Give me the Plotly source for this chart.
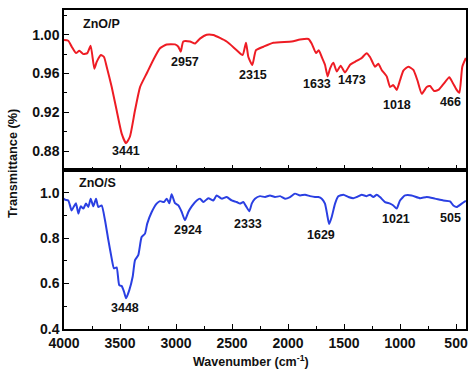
import plotly.graph_objects as go

# ZnO/P (top panel)
wn_p = [4000, 3962, 3931, 3893, 3863, 3827, 3792, 3762, 3729, 3708, 3670, 3643, 3619, 3574,
        3530, 3485, 3446, 3411, 3366, 3321, 3262, 3203, 3143, 3083, 3009, 2979, 2958, 2935,
        2875, 2830, 2786, 2726, 2667, 2548, 2458, 2405, 2375, 2354, 2319, 2286, 2220, 2131,
        1967, 1893, 1818, 1789, 1750, 1726, 1699, 1670, 1646, 1625, 1595, 1565, 1530, 1491,
        1446, 1402, 1342, 1298, 1268, 1223, 1194, 1164, 1119, 1089, 1060, 1030, 1000, 970,
        926, 881, 845, 806, 762, 732, 696, 658, 613, 560, 530, 494, 470, 444, 412]
t_p = [0.9945, 0.9938, 0.9876, 0.981, 0.9835, 0.980, 0.981, 0.9887, 0.965, 0.972, 0.979, 0.977,
       0.967, 0.946, 0.922, 0.898, 0.888, 0.895, 0.922, 0.946, 0.960, 0.974, 0.986, 0.990,
       0.990, 0.9876, 0.9825, 0.993, 0.993, 0.991, 0.996, 1.000, 0.9997, 0.993, 0.984, 0.979,
       0.9918, 0.977, 0.9687, 0.984, 0.9876, 0.9917, 0.993, 0.995, 0.9956, 0.991, 0.981, 0.984,
       0.977, 0.969, 0.957, 0.965, 0.971, 0.962, 0.968, 0.961, 0.969, 0.972, 0.976, 0.981,
       0.977, 0.967, 0.970, 0.9636, 0.957, 0.946, 0.948, 0.943, 0.953, 0.963, 0.967, 0.9636,
       0.953, 0.939, 0.946, 0.947, 0.942, 0.943, 0.949, 0.956, 0.9505, 0.943, 0.940, 0.967, 0.976]

# ZnO/S (bottom panel)
wn_s = [4000, 3991, 3962, 3932, 3911, 3893, 3872, 3851, 3827, 3804, 3783, 3762, 3738, 3714,
        3694, 3664, 3634, 3604, 3574, 3554, 3530, 3507, 3485, 3464, 3446, 3417, 3387, 3366,
        3337, 3307, 3277, 3257, 3217, 3173, 3143, 3107, 3083, 3060, 3039, 3009, 2979, 2949,
        2920, 2890, 2860, 2815, 2786, 2756, 2711, 2667, 2637, 2592, 2548, 2503, 2458, 2429,
        2399, 2375, 2345, 2324, 2295, 2250, 2205, 2161, 2116, 2071, 2027, 1982, 1938, 1893,
        1848, 1804, 1759, 1729, 1699, 1670, 1649, 1633, 1610, 1580, 1551, 1506, 1461, 1417,
        1387, 1342, 1298, 1268, 1238, 1208, 1179, 1134, 1089, 1060, 1030, 1000, 955, 896,
        821, 762, 688, 613, 554, 524, 494, 449, 420, 412]
t_s = [0.975, 0.969, 0.966, 0.922, 0.940, 0.954, 0.908, 0.940, 0.930, 0.952, 0.937, 0.974,
       0.940, 0.974, 0.937, 0.944, 0.879, 0.791, 0.710, 0.667, 0.671, 0.593, 0.589, 0.564,
       0.535, 0.571, 0.630, 0.703, 0.725, 0.805, 0.820, 0.864, 0.915, 0.952, 0.963, 0.959,
       0.974, 0.954, 0.993, 0.954, 0.944, 0.915, 0.879, 0.915, 0.940, 0.966, 0.974, 0.959,
       0.976, 0.966, 0.988, 0.974, 0.981, 0.966, 0.959, 0.952, 0.959, 0.941, 0.918, 0.952,
       0.974, 0.985, 0.981, 0.988, 0.981, 0.985, 0.974, 0.981, 0.996, 0.988, 0.991, 0.985,
       0.981, 0.981, 0.974, 0.952, 0.900, 0.862, 0.893, 0.952, 0.984, 0.991, 0.981, 0.976,
       0.981, 0.991, 0.985, 0.991, 0.981, 0.991, 0.981, 0.959, 0.952, 0.944, 0.930, 0.966,
       0.988, 0.988, 0.976, 0.981, 0.974, 0.966, 0.962, 0.944, 0.937, 0.952, 0.962, 0.965]

# Peak labels: text, x, y
peaks_p = ["3441", "2957", "2315", "1633", "1473", "1018", "466"]
peaks_p_x = [3446, 2920, 2309, 1738, 1431, 1030, 545]
peaks_p_y = [0.880, 0.972, 0.958, 0.949, 0.953, 0.927, 0.931]
peaks_s = ["3448", "2924", "2333", "1629", "1021", "505"]
peaks_s_x = [3455, 2890, 2355, 1708, 1039, 548]
peaks_s_y = [0.491, 0.838, 0.864, 0.813, 0.886, 0.890]

RED = "#ee1c24"
BLUE = "#2a3fe2"
FONT = "Liberation Sans"
TXT = "#111111"

fig = go.Figure()
fig.add_trace(go.Scatter(x=wn_p, y=t_p, mode="lines", xaxis="x2", yaxis="y2",
                         line=dict(color=RED, width=2, shape="spline", smoothing=0.5),
                         showlegend=False))
fig.add_trace(go.Scatter(x=wn_s, y=t_s, mode="lines", xaxis="x", yaxis="y",
                         line=dict(color=BLUE, width=2, shape="spline", smoothing=0.5),
                         showlegend=False))

lab_font = dict(family=FONT, size=12.5, color=TXT, weight="bold")
ann = []
for t, x, y in zip(peaks_p, peaks_p_x, peaks_p_y):
    ann.append(dict(text=t, x=x, y=y, xref="x2", yref="y2", showarrow=False, font=lab_font))
for t, x, y in zip(peaks_s, peaks_s_x, peaks_s_y):
    ann.append(dict(text=t, x=x, y=y, xref="x", yref="y", showarrow=False, font=lab_font))
ann.append(dict(text="ZnO/P", x=0.042, y=0.985, xref="paper", yref="paper",
                xanchor="left", yanchor="top", showarrow=False, font=lab_font))
ann.append(dict(text="ZnO/S", x=0.032, y=0.485, xref="paper", yref="paper",
                xanchor="left", yanchor="top", showarrow=False, font=lab_font))
ann.append(dict(text="Transmittance (%)", x=-0.127, y=0.52, xref="paper", yref="paper",
                xanchor="center", yanchor="middle", textangle=-90, showarrow=False,
                font=dict(family=FONT, size=12.7, color=TXT, weight="bold")))
ann.append(dict(text="Wavenumber (cm<sup>-1</sup>)", x=0.466, y=-0.101, xref="paper", yref="paper",
                xanchor="center", yanchor="middle", showarrow=False,
                font=dict(family=FONT, size=12.5, color=TXT, weight="bold")))

split = 0.4984
tickfont = dict(family=FONT, size=14, color=TXT, weight="bold")
xcommon = dict(range=[4000, 411], linecolor="black", linewidth=1.5, mirror=True,
               ticks="inside", ticklen=5, tickwidth=1.2, tickcolor="black",
               tick0=0, dtick=500, showgrid=False, zeroline=False, automargin=False,
               minor=dict(ticks="inside", ticklen=3, tickwidth=1.2, tickcolor="black", dtick=250, tick0=0),
               tickfont=tickfont)

fig.update_layout(
    width=474, height=375,
    margin=dict(l=64, r=8, t=10, b=46),
    plot_bgcolor="white", paper_bgcolor="white",
    xaxis=dict(**xcommon, anchor="y"),
    xaxis2=dict(**xcommon, anchor="y2", matches="x", showticklabels=False),
    yaxis=dict(domain=[0, split], range=[0.4, 1.1], linecolor="black", linewidth=1.5, mirror=True,
               ticks="inside", ticklen=5, tickwidth=1.2, tickcolor="black", automargin=False,
               tick0=0.4, dtick=0.2, tickformat=".1f", showgrid=False, zeroline=False,
               minor=dict(ticks="inside", ticklen=3, tickwidth=1.2, tickcolor="black", dtick=0.1, tick0=0.4),
               tickfont=tickfont),
    yaxis2=dict(domain=[split, 1], range=[0.8604, 1.0255], linecolor="black", linewidth=1.5, mirror=True,
                ticks="inside", ticklen=5, tickwidth=1.2, tickcolor="black", automargin=False,
                tick0=0.88, dtick=0.04, tickformat=".2f", showgrid=False, zeroline=False,
                minor=dict(ticks="inside", ticklen=3, tickwidth=1.2, tickcolor="black", dtick=0.02, tick0=0.88),
                tickfont=tickfont),
    annotations=ann,
)

fig.write_html("out.html", config={"displayModeBar": False},
               post_script="document.body.style.margin='0';")
